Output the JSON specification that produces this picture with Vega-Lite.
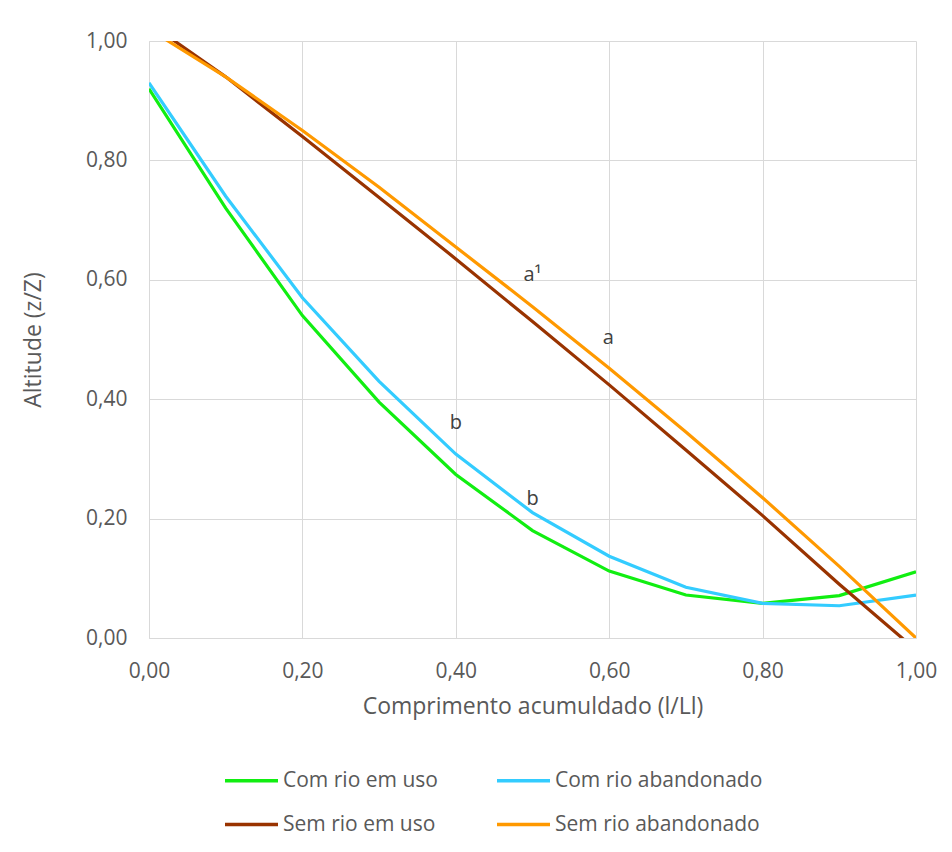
{
  "$schema": "https://vega.github.io/schema/vega-lite/v6.json",
  "autosize": "none",
  "width": 767,
  "height": 597,
  "padding": {"left": 149, "top": 41, "right": 36, "bottom": 214},
  "background": "white",
  "config": {
    "font": "Open Sans",
    "view": {"stroke": null},
    "axis": {"gridColor": "#D9D9D9", "domainColor": "#D9D9D9", "ticks": false, "labelColor": "#595959", "titleColor": "#595959", "labelFontSize": 21, "titleFontSize": 23, "titleFontWeight": "normal", "labelFont": "Open Sans", "titleFont": "Open Sans", "labelFlush": false}
  },
  "datasets": {
    "lines": [
      {"x": 0.0, "y": 0.92, "serie": "Com rio em uso"},
      {"x": 0.1, "y": 0.72, "serie": "Com rio em uso"},
      {"x": 0.2, "y": 0.54, "serie": "Com rio em uso"},
      {"x": 0.3, "y": 0.395, "serie": "Com rio em uso"},
      {"x": 0.4, "y": 0.274, "serie": "Com rio em uso"},
      {"x": 0.5, "y": 0.18, "serie": "Com rio em uso"},
      {"x": 0.6, "y": 0.112, "serie": "Com rio em uso"},
      {"x": 0.7, "y": 0.072, "serie": "Com rio em uso"},
      {"x": 0.8, "y": 0.058, "serie": "Com rio em uso"},
      {"x": 0.9, "y": 0.071, "serie": "Com rio em uso"},
      {"x": 1.0, "y": 0.111, "serie": "Com rio em uso"},
      {"x": 0.0, "y": 0.93, "serie": "Com rio abandonado"},
      {"x": 0.1, "y": 0.74, "serie": "Com rio abandonado"},
      {"x": 0.2, "y": 0.57, "serie": "Com rio abandonado"},
      {"x": 0.3, "y": 0.43, "serie": "Com rio abandonado"},
      {"x": 0.4, "y": 0.308, "serie": "Com rio abandonado"},
      {"x": 0.5, "y": 0.21, "serie": "Com rio abandonado"},
      {"x": 0.6, "y": 0.137, "serie": "Com rio abandonado"},
      {"x": 0.7, "y": 0.085, "serie": "Com rio abandonado"},
      {"x": 0.8, "y": 0.058, "serie": "Com rio abandonado"},
      {"x": 0.9, "y": 0.054, "serie": "Com rio abandonado"},
      {"x": 1.0, "y": 0.072, "serie": "Com rio abandonado"},
      {"x": 0.0, "y": 1.03, "serie": "Sem rio em uso"},
      {"x": 0.1, "y": 0.94, "serie": "Sem rio em uso"},
      {"x": 0.2, "y": 0.84, "serie": "Sem rio em uso"},
      {"x": 0.3, "y": 0.738, "serie": "Sem rio em uso"},
      {"x": 0.4, "y": 0.635, "serie": "Sem rio em uso"},
      {"x": 0.5, "y": 0.53, "serie": "Sem rio em uso"},
      {"x": 0.6, "y": 0.424, "serie": "Sem rio em uso"},
      {"x": 0.7, "y": 0.315, "serie": "Sem rio em uso"},
      {"x": 0.8, "y": 0.205, "serie": "Sem rio em uso"},
      {"x": 0.9, "y": 0.09, "serie": "Sem rio em uso"},
      {"x": 1.0, "y": -0.02, "serie": "Sem rio em uso"},
      {"x": 0.0, "y": 1.02, "serie": "Sem rio abandonado"},
      {"x": 0.1, "y": 0.94, "serie": "Sem rio abandonado"},
      {"x": 0.2, "y": 0.85, "serie": "Sem rio abandonado"},
      {"x": 0.3, "y": 0.755, "serie": "Sem rio abandonado"},
      {"x": 0.4, "y": 0.655, "serie": "Sem rio abandonado"},
      {"x": 0.5, "y": 0.555, "serie": "Sem rio abandonado"},
      {"x": 0.6, "y": 0.452, "serie": "Sem rio abandonado"},
      {"x": 0.7, "y": 0.345, "serie": "Sem rio abandonado"},
      {"x": 0.8, "y": 0.235, "serie": "Sem rio abandonado"},
      {"x": 0.9, "y": 0.12, "serie": "Sem rio abandonado"},
      {"x": 1.0, "y": 0.0, "serie": "Sem rio abandonado"}
    ],
    "labels": [
      {"x": 0.500, "y": 0.608, "label": "a¹"},
      {"x": 0.599, "y": 0.502, "label": "a"},
      {"x": 0.400, "y": 0.360, "label": "b"},
      {"x": 0.500, "y": 0.232, "label": "b"}
    ]
  },
  "layer": [
    {
      "data": {"name": "lines"},
      "mark": {"type": "line", "strokeWidth": 3.2, "clip": true},
      "encoding": {
        "x": {"field": "x", "type": "quantitative", "scale": {"domain": [0, 1], "nice": false},
              "axis": {"values": [0, 0.2, 0.4, 0.6, 0.8, 1.0], "labelExpr": "replace(format(datum.value, '.2f'), '.', ',')", "title": "Comprimento acumuldado (l/Ll)", "labelPadding": 22, "titlePadding": 14}},
        "y": {"field": "y", "type": "quantitative", "scale": {"domain": [0, 1], "nice": false},
              "axis": {"values": [0, 0.2, 0.4, 0.6, 0.8, 1.0], "labelExpr": "replace(format(datum.value, '.2f'), '.', ',')", "title": "Altitude (z/Z)", "labelPadding": 22, "titlePadding": 40}},
        "color": {"field": "serie", "type": "nominal",
                  "scale": {"domain": ["Com rio em uso", "Com rio abandonado", "Sem rio em uso", "Sem rio abandonado"], "range": ["#11EE11", "#33CCFF", "#993300", "#FF9900"]},
                  "legend": {"title": null, "orient": "none", "legendX": 74, "legendY": 711, "direction": "horizontal", "columns": 2, "symbolType": "stroke", "symbolSize": 2809, "symbolStrokeWidth": 3.5, "labelFontSize": 21, "labelColor": "#595959", "labelFont": "Open Sans", "labelLimit": 400, "columnPadding": 52, "rowPadding": 5, "labelOffset": 3}},
        "order": {"field": "x", "type": "quantitative"}
      }
    },
    {
      "data": {"name": "labels"},
      "mark": {"type": "text", "fontSize": 20, "color": "#404040", "font": "Open Sans"},
      "encoding": {
        "x": {"field": "x", "type": "quantitative"},
        "y": {"field": "y", "type": "quantitative"},
        "text": {"field": "label"}
      }
    }
  ]
}
